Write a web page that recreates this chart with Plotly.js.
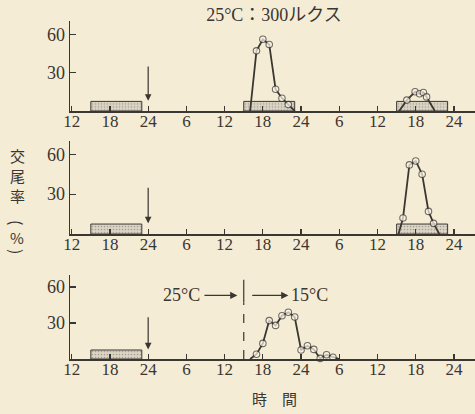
<!DOCTYPE html>
<html>
<head>
<meta charset="utf-8">
<script src="https://cdn.plot.ly/plotly-3.0.1.min.js"></script>
<style>html,body{margin:0;padding:0;background:#f5ecd6;}</style>
</head>
<body>
<div id="chart" style="width:475px;height:414px;"></div>
<script>
// ---- data (hours counted from 12:00 of day 1) ----
const tickVals = [0, 6, 12, 18, 24, 30, 36, 42, 48, 54, 60];
const tickText = ['12', '18', '24', '6', '12', '18', '24', '6', '12', '18', '24'];

const p1PeakHours = [28, 29, 30, 31, 32, 33, 34, 35];
const p1PeakRate  = [0, 47, 56, 52, 17, 10, 5, 0];
const p1SmallHours = [51.4, 52.6, 53.9, 54.6, 55.2, 55.7, 57];
const p1SmallRate  = [0, 8.5, 15, 13.5, 14.5, 11, 0];

const p2Hours = [51.3, 52, 53, 54, 55, 56, 56.8, 57.7];
const p2Rate  = [0, 12, 52, 55, 45, 17, 8, 0];

const p3Hours = [28, 29, 30, 31, 32, 33, 34, 35, 36, 37, 38, 39, 40, 41, 42];
const p3Rate  = [0, 4, 13, 32, 28, 36, 39, 35, 7.5, 11, 8, 0.5, 3.5, 1.5, 0];

const p1BoxStart = [3, 27, 51];
const p2BoxStart = [3, 51];
const p3BoxStart = [3];
const boxLength = 8;
const boxRate = 7.5;

const arrowHour = 12;      // transfer time (24 o'clock)
const shiftHour = 27;      // 25°C -> 15°C

// ---- styles ----
const bg = '#f5ecd6';
const ink = '#3a3631';
const serif = 'Liberation Serif, Noto Sans CJK JP, serif';
const cjk = 'Noto Sans CJK JP, sans-serif';

function boxTrace(starts, xa, ya) {
  return {
    type: 'bar', xaxis: xa, yaxis: ya,
    x: starts.map(s => s + boxLength / 2),
    y: starts.map(() => boxRate),
    width: starts.map(() => boxLength),
    base: 0,
    marker: {
      color: '#d6cfbf',
      pattern: {shape: '.', fgcolor: '#a7a195', bgcolor: '#ddd6c6', size: 3, solidity: 0.25},
      line: {color: ink, width: 1}
    },
    hoverinfo: 'skip'
  };
}
function curveTrace(xs, ys, xa, ya) {
  return {
    type: 'scatter', mode: 'lines+markers', xaxis: xa, yaxis: ya,
    x: xs, y: ys,
    line: {color: ink, width: 1.8},
    marker: {symbol: 'circle', size: ys.map(v => v === 0 ? 0 : 6.5), color: '#fbf6ea',
             line: {color: ink, width: 1.1}},
    cliponaxis: false
  };
}

const data = [
  boxTrace(p1BoxStart, 'x', 'y'),
  boxTrace(p2BoxStart, 'x2', 'y2'),
  boxTrace(p3BoxStart, 'x3', 'y3'),
  curveTrace(p1PeakHours, p1PeakRate, 'x', 'y'),
  curveTrace(p1SmallHours, p1SmallRate, 'x', 'y'),
  curveTrace(p2Hours, p2Rate, 'x2', 'y2'),
  curveTrace(p3Hours, p3Rate, 'x3', 'y3')
];

const H = 414, W = 475;
function fy(px) { return 1 - px / H; }
const xDomain = [70 / W, 1];

function xAxis(anchor) {
  return {
    anchor: anchor, domain: xDomain, range: [-0.27, 63.3],
    tickmode: 'array', tickvals: tickVals, ticktext: tickText,
    ticks: 'inside', ticklen: 5, tickwidth: 1.2, tickcolor: ink,
    ticklabelstandoff: -6,
    showline: true, linecolor: ink, linewidth: 1.5,
    showgrid: false, zeroline: false,
    tickfont: {family: serif, size: 17, color: ink},
    fixedrange: true
  };
}
function yAxis(anchor, dom) {
  return {
    anchor: anchor, domain: dom, range: [0, 70],
    tickmode: 'array', tickvals: [30, 60],
    ticks: 'inside', ticklen: 6, tickwidth: 1.2, tickcolor: ink,
    showline: true, linecolor: ink, linewidth: 1.5,
    showgrid: false, zeroline: false,
    tickfont: {family: serif, size: 18, color: ink},
    fixedrange: true
  };
}

function downArrow(xr, yr) {
  return {xref: xr, yref: yr, axref: xr, ayref: yr, x: arrowHour, y: 8, ax: arrowHour, ay: 36,
          text: '', showarrow: true, arrowhead: 2, arrowsize: 1.1, arrowwidth: 1.2, arrowcolor: ink};
}
function pchar(t, px, py, size, angle) {
  return {xref: 'paper', yref: 'paper', x: px / W, y: fy(py), text: t, showarrow: false,
          xanchor: 'center', yanchor: 'middle', textangle: angle || 0,
          font: {family: cjk, size: size, color: ink}};
}

const annotations = [
  downArrow('x', 'y'), downArrow('x2', 'y2'), downArrow('x3', 'y3'),
  {xref: 'x3', yref: 'y3', axref: 'x3', ayref: 'y3', x: 26, y: 53, ax: 20.6, ay: 53,
   text: '', showarrow: true, arrowhead: 2, arrowsize: 1.1, arrowwidth: 1.3, arrowcolor: ink},
  {xref: 'x3', yref: 'y3', axref: 'x3', ayref: 'y3', x: 34, y: 53, ax: 28.1, ay: 53,
   text: '', showarrow: true, arrowhead: 2, arrowsize: 1.1, arrowwidth: 1.3, arrowcolor: ink},
  {xref: 'x3', yref: 'y3', x: 17.2, y: 53, text: '25°C', showarrow: false,
   xanchor: 'center', yanchor: 'middle', font: {family: serif, size: 18, color: ink}},
  {xref: 'x3', yref: 'y3', x: 37.3, y: 53, text: '15°C', showarrow: false,
   xanchor: 'center', yanchor: 'middle', font: {family: serif, size: 18, color: ink}},
  pchar('交', 17, 155, 15), pchar('尾', 17, 175, 15), pchar('率', 17, 195, 15),
  pchar('(', 17, 222, 16, 90), pchar('%', 17, 237, 15), pchar(')', 17, 251, 16, 90),
  pchar('時　間', 274, 398, 15)
];

const shapes = [
  {type: 'line', xref: 'x3', yref: 'y3', x0: shiftHour, x1: shiftHour, y0: 47, y1: 66,
   line: {color: ink, width: 1.2}},
  {type: 'line', xref: 'x3', yref: 'y3', x0: shiftHour, x1: shiftHour, y0: 0, y1: 47,
   line: {color: ink, width: 1.2, dash: 'dash'}}
];

const layout = {
  width: W, height: H,
  margin: {l: 0, r: 0, t: 0, b: 0},
  paper_bgcolor: bg, plot_bgcolor: bg,
  showlegend: false,
  title: {text: '25°C：300ルクス', x: 274 / W, xanchor: 'center', y: fy(15), yanchor: 'middle',
          font: {family: serif, size: 18, color: ink}},
  xaxis: xAxis('y'), xaxis2: xAxis('y2'), xaxis3: xAxis('y3'),
  yaxis: yAxis('x', [fy(111), fy(21.4)]),
  yaxis2: yAxis('x2', [fy(234), fy(141)]),
  yaxis3: yAxis('x3', [fy(359), fy(275)]),
  annotations: annotations,
  shapes: shapes,
  bargap: 0
};

Plotly.newPlot('chart', data, layout, {staticPlot: true, displayModeBar: false});
</script>
</body>
</html>
